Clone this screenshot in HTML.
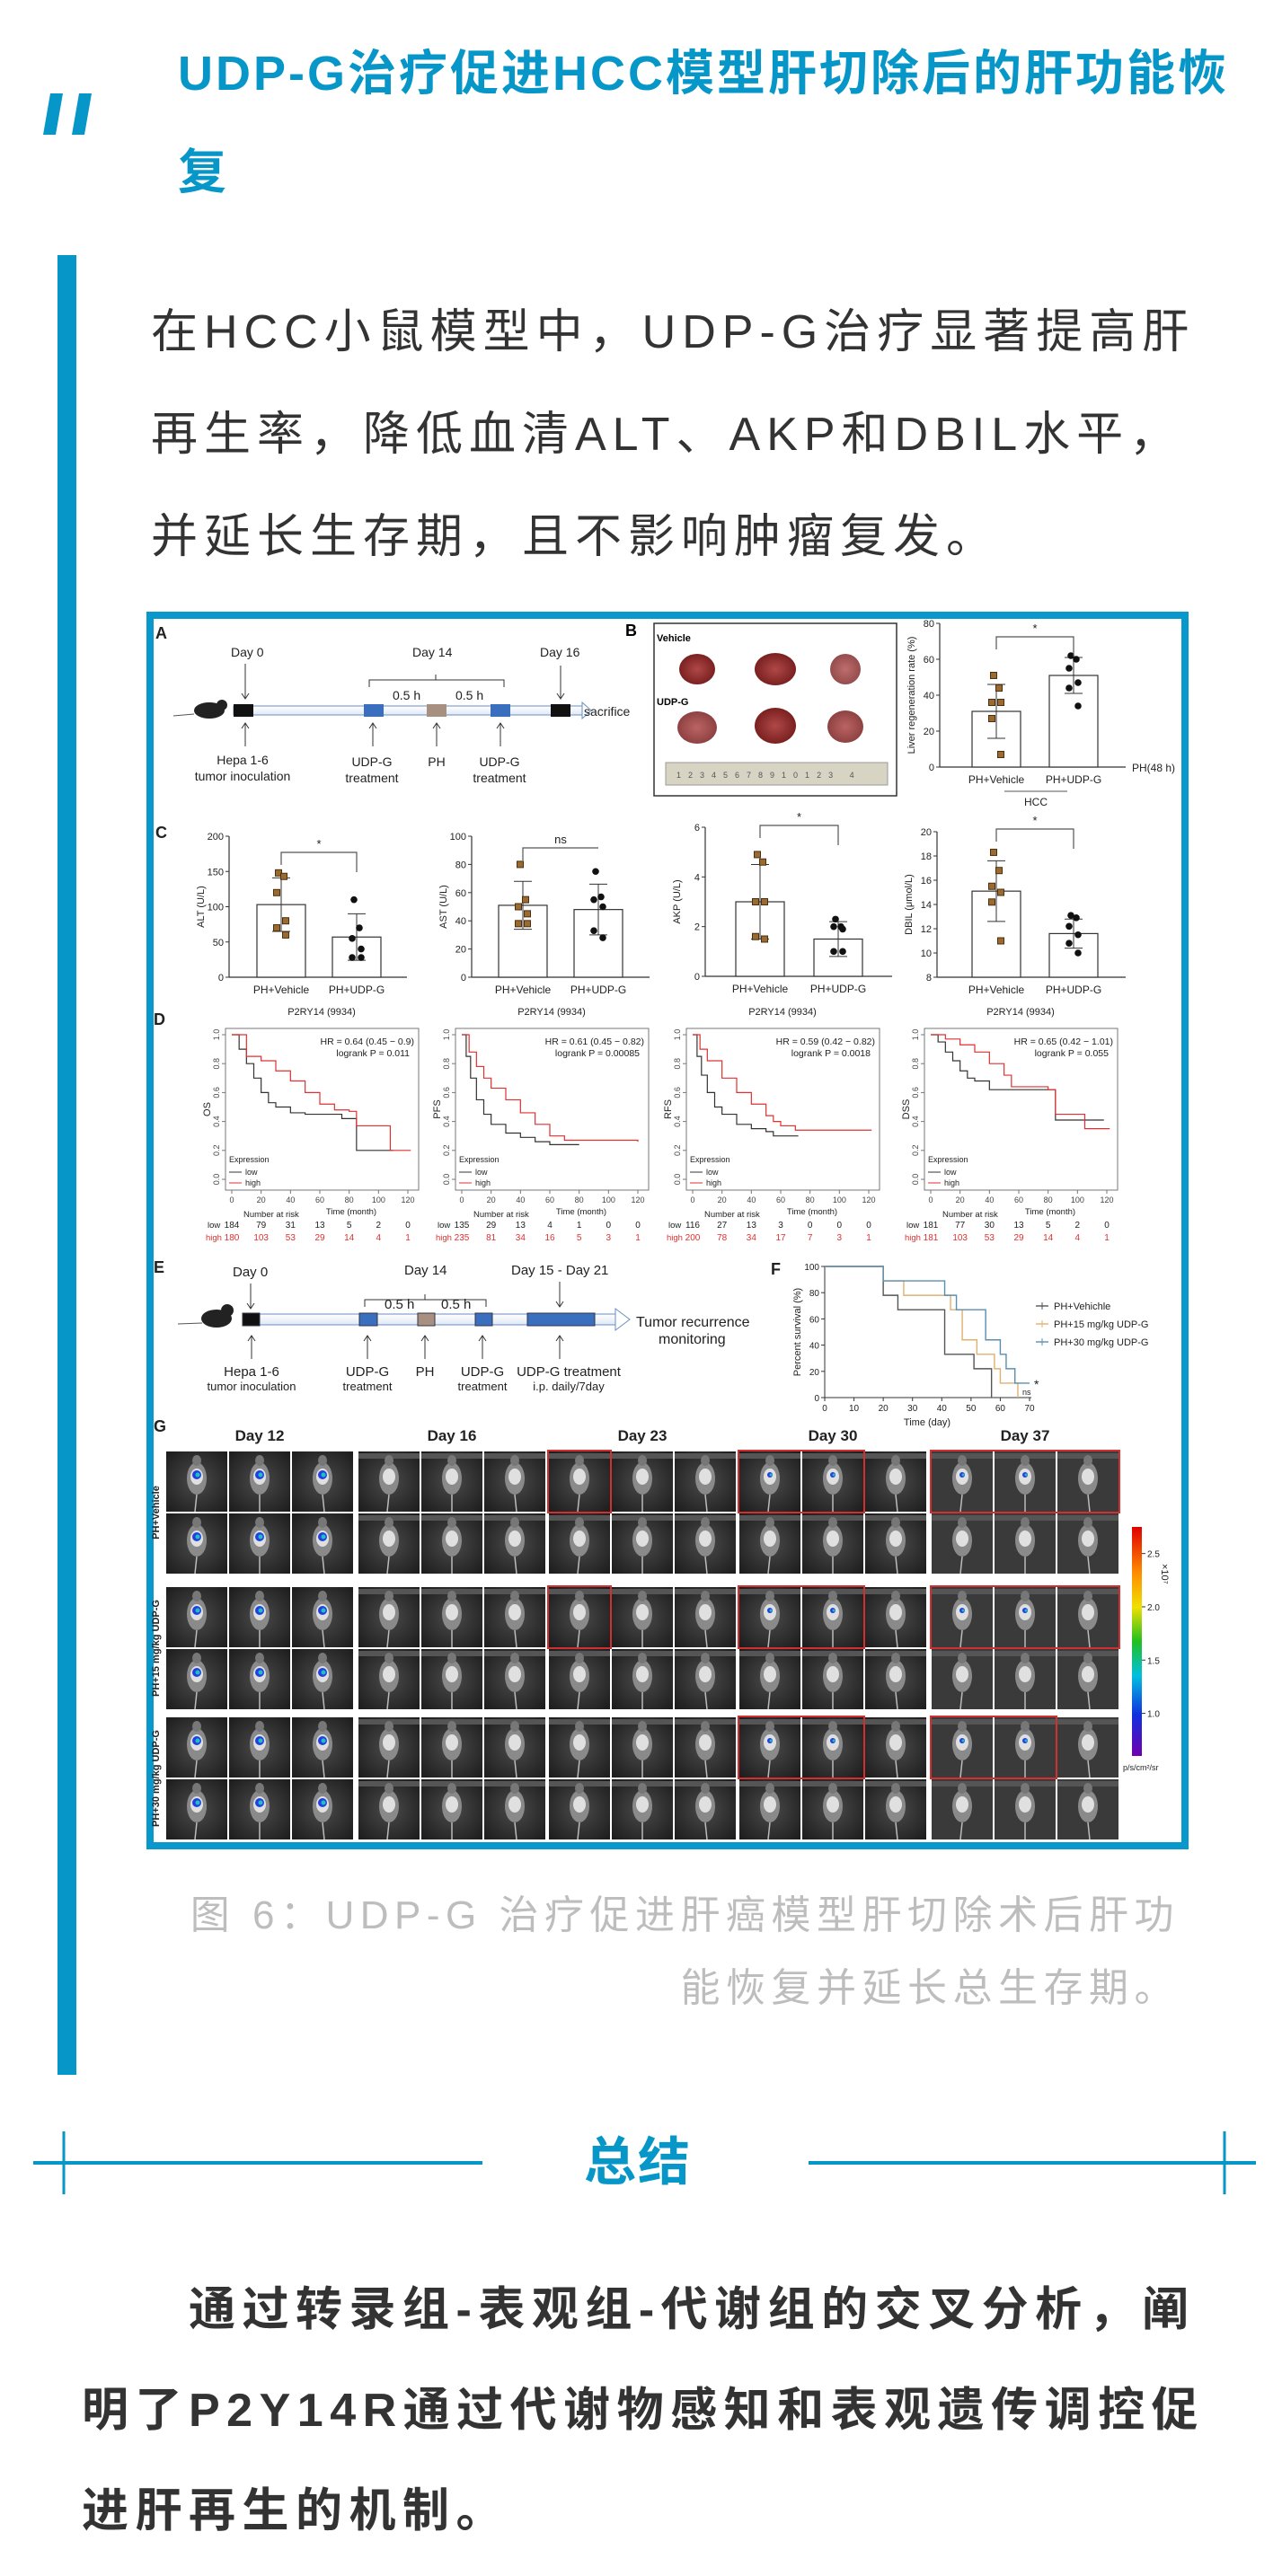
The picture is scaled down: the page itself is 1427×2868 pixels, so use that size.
<!DOCTYPE html>
<html lang="zh">
<head>
<meta charset="utf-8">
<style>
html,body{margin:0;padding:0;background:#fff;}
body{width:1427px;height:2868px;position:relative;overflow:hidden;font-family:"Liberation Sans","Noto Sans CJK SC",sans-serif;}
.abs{position:absolute;white-space:nowrap;}
.title{color:#0696c8;font-weight:bold;font-size:54px;letter-spacing:3px;line-height:60px;}
.para{color:#333;font-size:52px;letter-spacing:7px;line-height:60px;}
.cap{color:#bdbdbd;font-size:44px;letter-spacing:6.5px;line-height:50px;}
.sum{color:#333;font-size:52px;font-weight:bold;letter-spacing:7.5px;line-height:60px;}
svg text{font-family:"Liberation Sans",sans-serif;}
</style>
</head>
<body>
<!-- header -->
<svg class="abs" style="left:48px;top:104px" width="75" height="46">
<polygon points="8,0 22,0 14,46 0,46" fill="#0696c8"/>
<polygon points="40,0 54,0 46,46 32,46" fill="#0696c8"/>
</svg>
<div class="abs title" style="left:198px;top:52px">UDP-G治疗促进HCC模型肝切除后的肝功能恢</div>
<div class="abs title" style="left:198px;top:162px">复</div>

<div class="abs" style="left:64px;top:284px;width:21px;height:2026px;background:#0696c8"></div>

<div class="abs para" style="left:168px;top:340px">在HCC小鼠模型中，UDP-G治疗显著提高肝</div>
<div class="abs para" style="left:168px;top:454px">再生率，降低血清ALT、AKP和DBIL水平，</div>
<div class="abs para" style="left:168px;top:568px">并延长生存期，且不影响肿瘤复发。</div>

<svg id="fig" class="abs" style="left:163px;top:681px" width="1160" height="1378" viewBox="0 0 1160 1378">
<rect x="4" y="4" width="1152" height="1370" fill="#fff" stroke="#0898cc" stroke-width="8"/>
<defs>
<linearGradient id="tl" x1="0" y1="0" x2="0" y2="1"><stop offset="0" stop-color="#fff"/><stop offset="1" stop-color="#dfe8f6"/></linearGradient>
<linearGradient id="cb" x1="0" y1="0" x2="0" y2="1"><stop offset="0" stop-color="#e00000"/><stop offset="0.2" stop-color="#ff8c00"/><stop offset="0.35" stop-color="#f0e000"/><stop offset="0.5" stop-color="#20c020"/><stop offset="0.65" stop-color="#00c0e0"/><stop offset="0.82" stop-color="#1030e0"/><stop offset="1" stop-color="#7000b0"/></linearGradient>
<radialGradient id="bg" cx="0.5" cy="0.5" r="0.7"><stop offset="0" stop-color="#4a4a4a"/><stop offset="1" stop-color="#1c1c1c"/></radialGradient>
<radialGradient id="liv" cx="0.5" cy="0.5" r="0.5"><stop offset="0" stop-color="#b04848"/><stop offset="1" stop-color="#7a2020"/></radialGradient>
</defs>

<!-- Panel A timeline -->
<g font-size="14" fill="#222">
<text x="10" y="30" font-size="18" font-weight="bold">A</text>
<ellipse cx="70" cy="110" rx="17" ry="9" fill="#222"/><circle cx="84" cy="104" r="6" fill="#222"/><line x1="53" y1="114" x2="30" y2="116" stroke="#555"/>
<rect x="97" y="105" width="388" height="10" fill="url(#tl)" stroke="#6a8fc0"/>
<polygon points="485,101 495,110 485,119" fill="#fff" stroke="#6a8fc0"/>
<rect x="97" y="103" width="22" height="14" fill="#111"/>
<rect x="242" y="103" width="22" height="14" fill="#3a6fc0"/>
<rect x="312" y="103" width="22" height="14" fill="#a89080"/>
<rect x="383" y="103" width="22" height="14" fill="#3a6fc0"/>
<rect x="450" y="103" width="22" height="14" fill="#111"/>
<text x="487" y="116">sacrifice</text>
<text x="94" y="50">Day 0</text><text x="296" y="50">Day 14</text><text x="438" y="50">Day 16</text>
<path d="M110 58V97M106 91L110 97L114 91M461 60V97M457 91L461 97L465 91" stroke="#333" fill="none"/>
<path d="M248 84V76H322V70M322 76H398V84" stroke="#333" fill="none"/>
<text x="274" y="98">0.5 h</text><text x="344" y="98">0.5 h</text>
<path d="M110 150V124M106 130L110 124L114 130M252 150V124M248 130L252 124L256 130M323 150V124M319 130L323 124L327 130M394 150V124M390 130L394 124L398 130" stroke="#333" fill="none"/>
<text x="107" y="170" text-anchor="middle">Hepa 1-6</text><text x="107" y="188" text-anchor="middle">tumor inoculation</text>
<text x="251" y="172" text-anchor="middle">UDP-G</text><text x="251" y="190" text-anchor="middle">treatment</text>
<text x="323" y="172" text-anchor="middle">PH</text>
<text x="393" y="172" text-anchor="middle">UDP-G</text><text x="393" y="190" text-anchor="middle">treatment</text>
</g>

<!-- Panel B photo -->
<g>
<text x="533" y="27" font-size="18" font-weight="bold">B</text>
<rect x="565" y="13" width="270" height="192" fill="#fff" stroke="#333" stroke-width="1.5"/>
<text x="568" y="33" font-size="11" font-weight="bold">Vehicle</text>
<text x="568" y="104" font-size="11" font-weight="bold">UDP-G</text>
<ellipse cx="613" cy="64" rx="20" ry="17" fill="url(#liv)"/><ellipse cx="700" cy="64" rx="23" ry="18" fill="url(#liv)"/><ellipse cx="778" cy="64" rx="17" ry="17" fill="url(#liv)" opacity="0.8"/>
<ellipse cx="613" cy="129" rx="22" ry="18" fill="url(#liv)" opacity="0.85"/><ellipse cx="700" cy="127" rx="23" ry="20" fill="url(#liv)"/><ellipse cx="778" cy="128" rx="20" ry="18" fill="url(#liv)" opacity="0.85"/>
<rect x="578" y="168" width="247" height="25" fill="#d8d4c4" stroke="#999"/>
<text x="590" y="185" font-size="9" fill="#555" letter-spacing="8">12345678910123 4</text>
</g>
</svg>

<div class="abs cap" style="left:140px;top:2108px;width:1173px;text-align:right">图 6：UDP-G 治疗促进肝癌模型肝切除术后肝功</div>
<div class="abs cap" style="left:140px;top:2189px;width:1173px;text-align:right">能恢复并延长总生存期。</div>

<!-- summary header -->
<svg class="abs" style="left:0;top:2360px" width="1427" height="90">
<line x1="37" y1="48" x2="537" y2="48" stroke="#0696c8" stroke-width="4"/>
<line x1="71" y1="13" x2="71" y2="83" stroke="#0696c8" stroke-width="3"/>
<line x1="900" y1="48" x2="1398" y2="48" stroke="#0696c8" stroke-width="4"/>
<line x1="1363" y1="13" x2="1363" y2="83" stroke="#0696c8" stroke-width="3"/>
</svg>
<div class="abs" style="left:650px;top:2376px;color:#0696c8;font-size:58px;font-weight:bold;letter-spacing:2px;line-height:64px">总结</div>

<div class="abs sum" style="left:210px;top:2542px">通过转录组-表观组-代谢组的交叉分析，阐</div>
<div class="abs sum" style="left:91px;top:2654px">明了P2Y14R通过代谢物感知和表观遗传调控促</div>
<div class="abs sum" style="left:91px;top:2766px">进肝再生的机制。</div>

<script>
// ---------- data ----------
const groupCats = ['PH+Vehicle','PH+UDP-G'];
const regMeans = [31, 51];
const regSD = [15, 10];
const regPtsVeh = [51, 44, 36, 36, 27, 7];
const regPtsUdp = [62, 60, 55, 47, 44, 34];
const altMeans = [103, 57];
const altSD = [38, 33];
const altPtsVeh = [148, 143, 120, 80, 70, 60];
const altPtsUdp = [110, 70, 55, 40, 28, 28];
const astMeans = [51, 48];
const astSD = [17, 18];
const astPtsVeh = [80, 55, 50, 45, 38, 38];
const astPtsUdp = [75, 57, 55, 50, 33, 28];
const akpMeans = [3.0, 1.5];
const akpSD = [1.5, 0.7];
const akpPtsVeh = [4.9, 4.6, 3.0, 3.0, 1.6, 1.5];
const akpPtsUdp = [2.3, 2.0, 2.0, 1.9, 1.0, 1.0];
const dbilMeans = [15.1, 11.6];
const dbilSD = [2.5, 1.2];
const dbilPtsVeh = [18.3, 16.8, 15.5, 15.0, 14.2, 11.0];
const dbilPtsUdp = [13.1, 12.9, 12.2, 11.5, 10.8, 10.0];
const altTicks = [0, 50, 100, 150, 200];
const astTicks = [0, 20, 40, 60, 80, 100];
const akpTicks = [0, 2, 4, 6];
const dbilTicks = [8, 10, 12, 14, 16, 18, 20];
const regTicks = [0, 20, 40, 60, 80];

const kmTitles = ['P2RY14 (9934)','P2RY14 (9934)','P2RY14 (9934)','P2RY14 (9934)'];
const kmYLabels = ['OS','PFS','RFS','DSS'];
const kmHR = ['HR = 0.64 (0.45 − 0.9)','HR = 0.61 (0.45 − 0.82)','HR = 0.59 (0.42 − 0.82)','HR = 0.65 (0.42 − 1.01)'];
const kmP = ['logrank P = 0.011','logrank P = 0.00085','logrank P = 0.0018','logrank P = 0.055'];
const kmLow1 = [[0,1],[5,0.9],[10,0.8],[15,0.7],[20,0.6],[25,0.53],[30,0.5],[40,0.46],[50,0.45],[70,0.45],[75,0.42],[83,0.42],[85,0.2],[110,0.2]];
const kmHigh1 = [[0,1],[10,0.85],[20,0.82],[30,0.75],[40,0.68],[50,0.6],[60,0.52],[70,0.48],[80,0.47],[85,0.37],[105,0.37],[108,0.2],[122,0.2]];
const kmLow2 = [[0,1],[3,0.85],[6,0.7],[10,0.55],[15,0.45],[20,0.38],[30,0.32],[40,0.29],[50,0.26],[60,0.24],[80,0.24]];
const kmHigh2 = [[0,1],[5,0.88],[10,0.78],[15,0.7],[20,0.63],[30,0.55],[40,0.46],[50,0.38],[60,0.3],[70,0.27],[120,0.26]];
const kmLow3 = [[0,1],[3,0.85],[6,0.72],[10,0.6],[15,0.5],[20,0.45],[30,0.38],[40,0.35],[50,0.33],[55,0.3],[72,0.3]];
const kmHigh3 = [[0,1],[5,0.9],[10,0.82],[20,0.7],[30,0.6],[40,0.52],[50,0.44],[55,0.4],[60,0.37],[70,0.34],[122,0.34]];
const kmLow4 = [[0,1],[5,0.95],[10,0.88],[15,0.82],[20,0.75],[25,0.7],[30,0.68],[40,0.62],[83,0.62],[85,0.41],[118,0.41]];
const kmHigh4 = [[0,1],[10,0.97],[20,0.93],[30,0.88],[40,0.8],[50,0.72],[55,0.64],[80,0.62],[85,0.45],[100,0.45],[105,0.35],[122,0.35]];
const kmXTicks = [0, 20, 40, 60, 80, 100, 120];
const kmYTicks = [0, 0.2, 0.4, 0.6, 0.8, 1.0];
const riskLow1 = [184, 79, 31, 13, 5, 2, 0];
const riskHigh1 = [180, 103, 53, 29, 14, 4, 1];
const riskLow2 = [135, 29, 13, 4, 1, 0, 0];
const riskHigh2 = [235, 81, 34, 16, 5, 3, 1];
const riskLow3 = [116, 27, 13, 3, 0, 0, 0];
const riskHigh3 = [200, 78, 34, 17, 7, 3, 1];
const riskLow4 = [181, 77, 30, 13, 5, 2, 0];
const riskHigh4 = [181, 103, 53, 29, 14, 4, 1];

const survVehicle = [[0,100],[20,78],[25,67],[41,33],[51,22],[57,0]];
const surv15 = [[0,100],[20,89],[27,78],[43,67],[47,44],[52,33],[58,22],[60,11],[66,0]];
const surv30 = [[0,100],[20,89],[41,78],[45,67],[55,44],[60,33],[62,22],[65,11],[70,11]];
const survNames = ['PH+Vehichle','PH+15 mg/kg UDP-G','PH+30 mg/kg UDP-G'];
const survXTicks = [0,10,20,30,40,50,60,70];
const survYTicks = [0,20,40,60,80,100];

const dayLabels = ['Day 12','Day 16','Day 23','Day 30','Day 37'];
const groupLabels = ['PH+Vehicle','PH+15 mg/kg UDP-G','PH+30 mg/kg UDP-G'];
const cbTicks = [1.0, 1.5, 2.0, 2.5];

// ---------- helpers ----------
const NS = 'http://www.w3.org/2000/svg';
const svg = document.getElementById('fig');
function mk(tag, attrs, parent){
  const e = document.createElementNS(NS, tag);
  for (const k in attrs) e.setAttribute(k, attrs[k]);
  (parent || svg).appendChild(e);
  return e;
}
function tx(x, y, s, size, extra, parent){
  const a = Object.assign({x:x, y:y, 'font-size':size, fill:'#222'}, extra||{});
  const t = mk('text', a, parent);
  t.textContent = s;
  return t;
}

// ---------- bar/dot panels ----------
function barPanel(cfg, means, sds, pts1, pts2, ticks){
  const g = mk('g', {});
  
  
  const ys = v => cfg.bot - (v - cfg.min) / (cfg.max - cfg.min) * (cfg.bot - cfg.top);
  mk('line', {x1:cfg.ax, y1:cfg.top, x2:cfg.ax, y2:cfg.bot, stroke:'#333', 'stroke-width':1.2}, g);
  mk('line', {x1:cfg.ax, y1:cfg.bot, x2:cfg.xend, y2:cfg.bot, stroke:'#333', 'stroke-width':1.2}, g);
  ticks.forEach(t => {
    mk('line', {x1:cfg.ax-4, y1:ys(t), x2:cfg.ax, y2:ys(t), stroke:'#333'}, g);
    tx(cfg.ax-6, ys(t)+4, String(t), 11, {'text-anchor':'end'}, g);
  });
  tx(0, 0, cfg.ylabel, 11, {'text-anchor':'middle', transform:`translate(${cfg.ax-28},${(cfg.top+cfg.bot)/2}) rotate(-90)`}, g);
  const allPts = [pts1, pts2];
  means.forEach((m, i) => {
    const cx = cfg.cx[i];
    const bar = mk('rect', {x:cx-27, y:ys(m), width:54, height:cfg.bot-ys(m), fill:'#fff', stroke:'#333', 'stroke-width':1.2}, g);
    
    
    mk('line', {x1:cx, y1:ys(m+sds[i]), x2:cx, y2:ys(m-sds[i]), stroke:'#333'}, g);
    mk('line', {x1:cx-10, y1:ys(m+sds[i]), x2:cx+10, y2:ys(m+sds[i]), stroke:'#333'}, g);
    mk('line', {x1:cx-10, y1:ys(m-sds[i]), x2:cx+10, y2:ys(m-sds[i]), stroke:'#333'}, g);
    allPts[i].forEach((p, j) => {
      const dx = (j % 2 ? 5 : -5) * (j > 1 ? 1 : 0.6);
      if (i === 0) {
        const d = mk('rect', {x:cx+dx-3.5, y:ys(p)-3.5, width:7, height:7, fill:'#9a6a30', stroke:'#4a3010'}, g);
        
      } else {
        const d = mk('circle', {cx:cx+dx, cy:ys(p), r:3.8, fill:'#111'}, g);
        
      }
    });
    tx(cx, cfg.bot+18, groupCats[i], 12, {'text-anchor':'middle'}, g);
  });
  const sy = cfg.sigY;
  mk('path', {d:`M${cfg.cx[0]} ${sy+14}V${sy}H${cfg.cx[1]}V${sy+(cfg.sig==='ns'?0:22)}`, fill:'none', stroke:'#555', 'stroke-width':1.2}, g);
  tx((cfg.cx[0]+cfg.cx[1])/2, sy-5, cfg.sig, 13, {'text-anchor':'middle'}, g);
  return g;
}
barPanel({name:'chart-b-liver-regeneration', ax:883, top:13, bot:173, min:0, max:80, xend:1090, cx:[946,1032], ylabel:'Liver regeneration rate (%)', sig:'*', sigY:28}, regMeans, regSD, regPtsVeh, regPtsUdp, regTicks);
tx(1097, 178, 'PH(48 h)', 12);
mk('line', {x1:955, y1:200, x2:1025, y2:200, stroke:'#555'});
tx(990, 216, 'HCC', 12, {'text-anchor':'middle'});
tx(10, 252, 'C', 18, {'font-weight':'bold'});
barPanel({name:'chart-c-alt', ax:92, top:250, bot:407, min:0, max:200, xend:290, cx:[150,234], ylabel:'ALT (U/L)', sig:'*', sigY:268}, altMeans, altSD, altPtsVeh, altPtsUdp, altTicks);
barPanel({name:'chart-c-ast', ax:362, top:250, bot:407, min:0, max:100, xend:560, cx:[419,503], ylabel:'AST (U/L)', sig:'ns', sigY:263}, astMeans, astSD, astPtsVeh, astPtsUdp, astTicks);
barPanel({name:'chart-c-akp', ax:622, top:240, bot:406, min:0, max:6, xend:830, cx:[683,770], ylabel:'AKP (U/L)', sig:'*', sigY:238}, akpMeans, akpSD, akpPtsVeh, akpPtsUdp, akpTicks);
barPanel({name:'chart-c-dbil', ax:880, top:245, bot:407, min:8, max:20, xend:1090, cx:[946,1032], ylabel:'DBIL (μmol/L)', sig:'*', sigY:242}, dbilMeans, dbilSD, dbilPtsVeh, dbilPtsUdp, dbilTicks);

// ---------- KM panels ----------
tx(8, 460, 'D', 18, {'font-weight':'bold'});
const kmLows = [kmLow1, kmLow2, kmLow3, kmLow4];
const kmHighs = [kmHigh1, kmHigh2, kmHigh3, kmHigh4];
const riskLows = [riskLow1, riskLow2, riskLow3, riskLow4];
const riskHighs = [riskHigh1, riskHigh2, riskHigh3, riskHigh4];
const kmLefts = [88, 344, 601, 866];
kmLefts.forEach((L, k) => {
  const g = mk('g', {});
  
  
  const x0 = L + 7, xs = t => x0 + t / 120 * 196;
  const ys = v => 632 - v * 161;
  mk('rect', {x:L, y:464, width:215, height:180, fill:'#fff', stroke:'#777'}, g);
  tx(L+107, 449, kmTitles[k], 11, {'text-anchor':'middle'}, g);
  tx(L+210, 482, kmHR[k], 10.5, {'text-anchor':'end'}, g);
  tx(L+205, 495, kmP[k], 10.5, {'text-anchor':'end'}, g);
  kmYTicks.forEach(v => {
    mk('line', {x1:L-4, y1:ys(v), x2:L, y2:ys(v), stroke:'#777'}, g);
    tx(0, 0, v.toFixed(1), 9, {'text-anchor':'middle', fill:'#444', transform:`translate(${L-7},${ys(v)}) rotate(-90)`}, g);
  });
  tx(0, 0, kmYLabels[k], 11, {'text-anchor':'middle', transform:`translate(${L-17},${554}) rotate(-90)`}, g);
  kmXTicks.forEach((t, i) => {
    mk('line', {x1:xs(t), y1:644, x2:xs(t), y2:648, stroke:'#777'}, g);
    tx(xs(t), 658, String(t), 9, {'text-anchor':'middle', fill:'#444'}, g);
    tx(xs(t), 686, String(riskLows[k][i]), 10, {'text-anchor':'middle'}, g);
    tx(xs(t), 700, String(riskHighs[k][i]), 10, {'text-anchor':'middle', fill:'#e03030'}, g);
  });
  tx(L+140, 671, 'Time (month)', 9.5, {'text-anchor':'middle'}, g);
  tx(L+20, 674, 'Number at risk', 9.5, {}, g);
  tx(L-20, 686, 'low', 9.5, {}, g);
  tx(L-22, 700, 'high', 9.5, {fill:'#e03030'}, g);
  tx(L+4, 613, 'Expression', 9, {}, g);
  mk('line', {x1:L+4, y1:624, x2:L+18, y2:624, stroke:'#333'}, g); tx(L+22, 627, 'low', 9, {}, g);
  mk('line', {x1:L+4, y1:636, x2:L+18, y2:636, stroke:'#e03030'}, g); tx(L+22, 639, 'high', 9, {}, g);
  [[kmLows[k], '#333', 'km-low-line'], [kmHighs[k], '#e03030', 'km-high-line']].forEach(([d, col, nm]) => {
    let p = `M${xs(d[0][0])} ${ys(d[0][1])}`;
    for (let i = 1; i < d.length; i++) p += `H${xs(d[i][0])}V${ys(d[i][1])}`;
    const path = mk('path', {d:p, fill:'none', stroke:col, 'stroke-width':1.2}, g);
    
  });
});

// ---------- E timeline ----------
(function(){
  const g = mk('g', {'font-size':15, fill:'#222'});
  
  
  tx(8, 736, 'E', 18, {'font-weight':'bold'}, g);
  mk('ellipse', {cx:78, cy:787, rx:17, ry:10, fill:'#222'}, g);
  mk('circle', {cx:90, cy:778, r:7, fill:'#222'}, g);
  mk('line', {x1:62, y1:792, x2:35, y2:793, stroke:'#555'}, g);
  mk('rect', {x:107, y:782, width:415, height:12, fill:'url(#tl)', stroke:'#6a8fc0'}, g);
  mk('polygon', {points:'522,776 538,788 522,800', fill:'#fff', stroke:'#6a8fc0'}, g);
  [[107,19,'#111'],[237,20,'#3a6fc0'],[302,19,'#a89080'],[366,19,'#3a6fc0'],[424,75,'#3a6fc0']].forEach(b => mk('rect', {x:b[0], y:781, width:b[1], height:14, fill:b[2], stroke:'#334'}, g));
  tx(96, 740, 'Day 0', 15, {}, g); tx(287, 738, 'Day 14', 15, {}, g); tx(406, 738, 'Day 15 - Day 21', 15, {}, g);
  mk('path', {d:'M116 748V776M112 770L116 776L120 770M460 746V774M456 768L460 774L464 768M243 774V766H310V760M310 766H378V774', fill:'none', stroke:'#333'}, g);
  tx(265, 776, '0.5 h', 15, {}, g); tx(328, 776, '0.5 h', 15, {}, g);
  tx(545, 796, 'Tumor recurrence', 16, {}, g); tx(570, 815, 'monitoring', 16, {}, g);
  [117, 246, 310, 374, 460].forEach(x => mk('path', {d:`M${x} 832V806M${x-4} 812L${x} 806L${x+4} 812`, fill:'none', stroke:'#333'}, g));
  tx(117, 851, 'Hepa 1-6', 15, {'text-anchor':'middle'}, g); tx(117, 867, 'tumor inoculation', 13, {'text-anchor':'middle'}, g);
  tx(246, 851, 'UDP-G', 15, {'text-anchor':'middle'}, g); tx(246, 867, 'treatment', 13, {'text-anchor':'middle'}, g);
  tx(310, 851, 'PH', 15, {'text-anchor':'middle'}, g);
  tx(374, 851, 'UDP-G', 15, {'text-anchor':'middle'}, g); tx(374, 867, 'treatment', 13, {'text-anchor':'middle'}, g);
  tx(470, 851, 'UDP-G treatment', 15, {'text-anchor':'middle'}, g); tx(470, 867, 'i.p. daily/7day', 13, {'text-anchor':'middle'}, g);
})();

// ---------- F survival ----------
(function(){
  const g = mk('g', {});
  
  
  tx(695, 738, 'F', 18, {'font-weight':'bold'}, g);
  const xs = t => 755 + t / 70 * 228;
  const ys = v => 875 - v / 100 * 146;
  mk('line', {x1:755, y1:ys(100), x2:755, y2:875, stroke:'#333'}, g);
  mk('line', {x1:755, y1:875, x2:985, y2:875, stroke:'#333'}, g);
  survYTicks.forEach(v => { mk('line', {x1:751, y1:ys(v), x2:755, y2:ys(v), stroke:'#333'}, g); tx(749, ys(v)+4, String(v), 10, {'text-anchor':'end'}, g); });
  survXTicks.forEach(t => { mk('line', {x1:xs(t), y1:875, x2:xs(t), y2:879, stroke:'#333'}, g); tx(xs(t), 890, String(t), 10, {'text-anchor':'middle'}, g); });
  tx(xs(35), 906, 'Time (day)', 11, {'text-anchor':'middle'}, g);
  tx(0, 0, 'Percent survival (%)', 11, {'text-anchor':'middle', transform:'translate(728,802) rotate(-90)'}, g);
  const cols = ['#555', '#e0b070', '#5a8fb0'];
  [survVehicle, surv15, surv30].forEach((d, k) => {
    let p = `M${xs(d[0][0])} ${ys(d[0][1])}`;
    for (let i = 1; i < d.length; i++) p += `H${xs(d[i][0])}V${ys(d[i][1])}`;
    const path = mk('path', {d:p, fill:'none', stroke:cols[k], 'stroke-width':1.4}, g);
    
    const ly = 773 + k * 20;
    mk('line', {x1:990, y1:ly, x2:1004, y2:ly, stroke:cols[k], 'stroke-width':1.4}, g);
    mk('line', {x1:997, y1:ly-4, x2:997, y2:ly+4, stroke:cols[k]}, g);
    tx(1010, ly+4, survNames[k], 11, {}, g);
  });
  tx(988, 865, '*', 14, {}, g);
  tx(975, 872, 'ns', 9, {}, g);
})();

// ---------- G imaging grid ----------
tx(8, 913, 'G', 18, {'font-weight':'bold'});
const colStarts = [22, 236, 448, 660, 874];
const rowTops = [935, 1004, 1086, 1155, 1231, 1300];
const cw = 68, ch = 67;
dayLabels.forEach((d, i) => {
  const t = tx(colStarts[i] + 104, 923, d, 17, {'text-anchor':'middle', 'font-weight':'bold'});
  
});
groupLabels.forEach((s, i) => {
  const t = tx(0, 0, s, 11, {'text-anchor':'middle', 'font-weight':'bold', transform:`translate(14,${rowTops[i*2]+ch+1}) rotate(-90)`});
  
});
rowTops.forEach((ry, r) => {
  colStarts.forEach((cx0, gi) => {
    for (let c = 0; c < 3; c++) {
      const x = cx0 + c * (cw + 2);
      const cell = mk('g', {});
      
      
      mk('rect', {x:x, y:ry, width:cw, height:ch, fill:gi === 4 ? '#3a3a3a' : 'url(#bg)'}, cell);
      if (gi > 0) mk('rect', {x:x, y:ry+2, width:cw, height:6, fill:'#555'}, cell);
      const mx = x + cw/2;
      mk('line', {x1:mx, y1:ry+48, x2:mx+(c-1)*2, y2:ry+ch, stroke:'#bbb', 'stroke-width':1.5}, cell);
      mk('ellipse', {cx:mx, cy:ry+30, rx:11, ry:18, fill:'#8a8a8a'}, cell);
      mk('ellipse', {cx:mx, cy:ry+10, rx:5, ry:6, fill:'#777'}, cell);
      mk('ellipse', {cx:mx, cy:ry+28, rx:7, ry:9, fill:'#eee', opacity:0.85}, cell);
      const spot = gi === 0 || ((r === 0 || r === 2 || r === 4) && (gi === 3 || gi === 4) && c < 2);
      if (spot) {
        mk('circle', {cx:mx, cy:ry+26, r:gi === 0 ? 5 : 3, fill:'#2040e0'}, cell);
        mk('circle', {cx:mx+1, cy:ry+26, r:gi === 0 ? 2.5 : 1.5, fill:'#20c0c0'}, cell);
      }
    }
  });
});
// red highlight boxes
[[0,2,1],[0,3,2],[0,4,3],[2,2,1],[2,3,2],[2,4,3],[4,3,2],[4,4,2]].forEach(b => {
  const rr = mk('rect', {x:colStarts[b[1]]-1, y:rowTops[b[0]]-1, width:b[2]*(cw+2), height:ch+2, fill:'none', stroke:'#d03030', 'stroke-width':2});
  
  
});
// colorbar
(function(){
  const g = mk('g', {});
  
  
  mk('rect', {x:1097, y:1019, width:11, height:255, fill:'url(#cb)'}, g);
  const ys = v => 1274 - (v - 0.6) / (2.75 - 0.6) * 255;
  cbTicks.forEach(v => { mk('line', {x1:1108, y1:ys(v), x2:1112, y2:ys(v), stroke:'#333'}, g); tx(1114, ys(v)+4, v.toFixed(1), 10, {}, g); });
  tx(0, 0, '×10⁷', 11, {transform:'translate(1130,1060) rotate(90)'}, g);
  tx(1087, 1290, 'p/s/cm²/sr', 9, {}, g);
})();
</script>
</body>
</html>
